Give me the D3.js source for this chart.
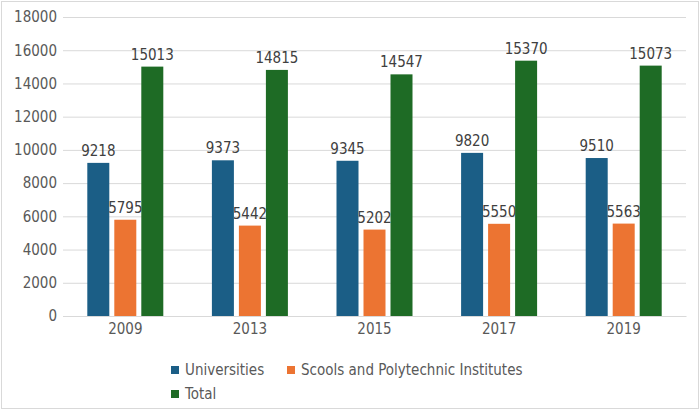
<!DOCTYPE html>
<html>
<head>
<meta charset="utf-8">
<script src="https://cdn.jsdelivr.net/npm/d3@7"></script>
<style>
  body { margin: 0; background: #fff; }
  text { font-family: "DejaVu Sans Condensed", "DejaVu Sans", sans-serif; font-stretch: condensed; }
</style>
</head>
<body>
<div id="chart"></div>
<script>
// data
var years = ["2009", "2013", "2015", "2017", "2019"];
var seriesNames = ["Universities", "Scools and Polytechnic Institutes", "Total"];
var universities = [9218, 9373, 9345, 9820, 9510];
var schools = [5795, 5442, 5202, 5550, 5563];
var total = [15013, 14815, 14547, 15370, 15073];
var yTicks = [0, 2000, 4000, 6000, 8000, 10000, 12000, 14000, 16000, 18000];
var colors = ["#1b5e86", "#ec7432", "#1e6b25"];

var W = 700, H = 410;
var margin = {top: 17, right: 14, bottom: 94, left: 63},
    width = W - margin.left - margin.right,
    height = H - margin.top - margin.bottom;

var svgRoot = d3.select("#chart").append("svg")
    .attr("width", W)
    .attr("height", H);

// outer frame
svgRoot.append("rect")
    .attr("x", 1.5).attr("y", 1.5)
    .attr("width", W - 3).attr("height", H - 3)
    .attr("fill", "#fff")
    .attr("stroke", "#d9d9d9");

var svg = svgRoot.append("g")
    .attr("transform", "translate(" + margin.left + "," + margin.top + ")");

var x0 = d3.scaleBand().domain(years).range([0, width]);
var y = d3.scaleLinear().domain([0, 18000]).range([height, 0]);

var barW = 22, gap = 5;
var x1 = d3.scaleOrdinal().domain([0, 1, 2])
    .range([-(barW * 1.5 + gap), -(barW / 2), barW / 2 + gap]);

// gridlines + y labels
var yAxis = d3.axisLeft(y).tickValues(yTicks).tickFormat(d3.format("d"))
    .tickSize(-width).tickPadding(6);
var gy = svg.append("g").call(yAxis);
gy.select(".domain").remove();
gy.selectAll(".tick line").attr("stroke", "#d9d9d9");
gy.selectAll(".tick text")
    .attr("fill", "#595959")
    .style("font-size", "15px");

// x axis
var xAxis = d3.axisBottom(x0).tickSize(0).tickPadding(7);
var gx = svg.append("g")
    .attr("transform", "translate(0," + height + ")")
    .call(xAxis);
gx.select(".domain").attr("stroke", "#d9d9d9");
gx.selectAll(".tick text")
    .attr("fill", "#595959")
    .style("font-size", "15px");

var data = years.map(function(yr, i) {
  return {year: yr, values: [universities[i], schools[i], total[i]]};
});

var slice = svg.selectAll(".slice")
    .data(data)
  .enter().append("g")
    .attr("class", "slice")
    .attr("transform", function(d) { return "translate(" + (x0(d.year) + x0.bandwidth() / 2) + ",0)"; });

// labels first, bars drawn over them
slice.selectAll("text.val")
    .data(function(d) { return d.values; })
  .enter().append("text")
    .attr("class", "val")
    .attr("x", function(d, i) { return x1(i) + barW / 2; })
    .attr("y", function(d) { return y(d) - 7; })
    .attr("text-anchor", "middle")
    .attr("fill", "#404040")
    .style("font-size", "15px")
    .text(function(d) { return d; });

slice.selectAll("rect")
    .data(function(d) { return d.values; })
  .enter().append("rect")
    .attr("x", function(d, i) { return x1(i); })
    .attr("width", barW)
    .attr("y", function(d) { return y(d); })
    .attr("height", function(d) { return height - y(d); })
    .attr("fill", function(d, i) { return colors[i]; });

// legend
var legendPos = [[171, 370], [287, 370], [171, 394]];
var legend = svgRoot.selectAll(".legend")
    .data(seriesNames)
  .enter().append("g")
    .attr("class", "legend")
    .attr("transform", function(d, i) { return "translate(" + legendPos[i][0] + "," + legendPos[i][1] + ")"; });

legend.append("rect")
    .attr("x", 0).attr("y", -4)
    .attr("width", 8).attr("height", 8)
    .attr("fill", function(d, i) { return colors[i]; });

legend.append("text")
    .attr("x", 14)
    .attr("dy", ".35em")
    .attr("fill", "#595959")
    .style("font-size", "15px")
    .text(function(d) { return d; });
</script>
</body>
</html>
